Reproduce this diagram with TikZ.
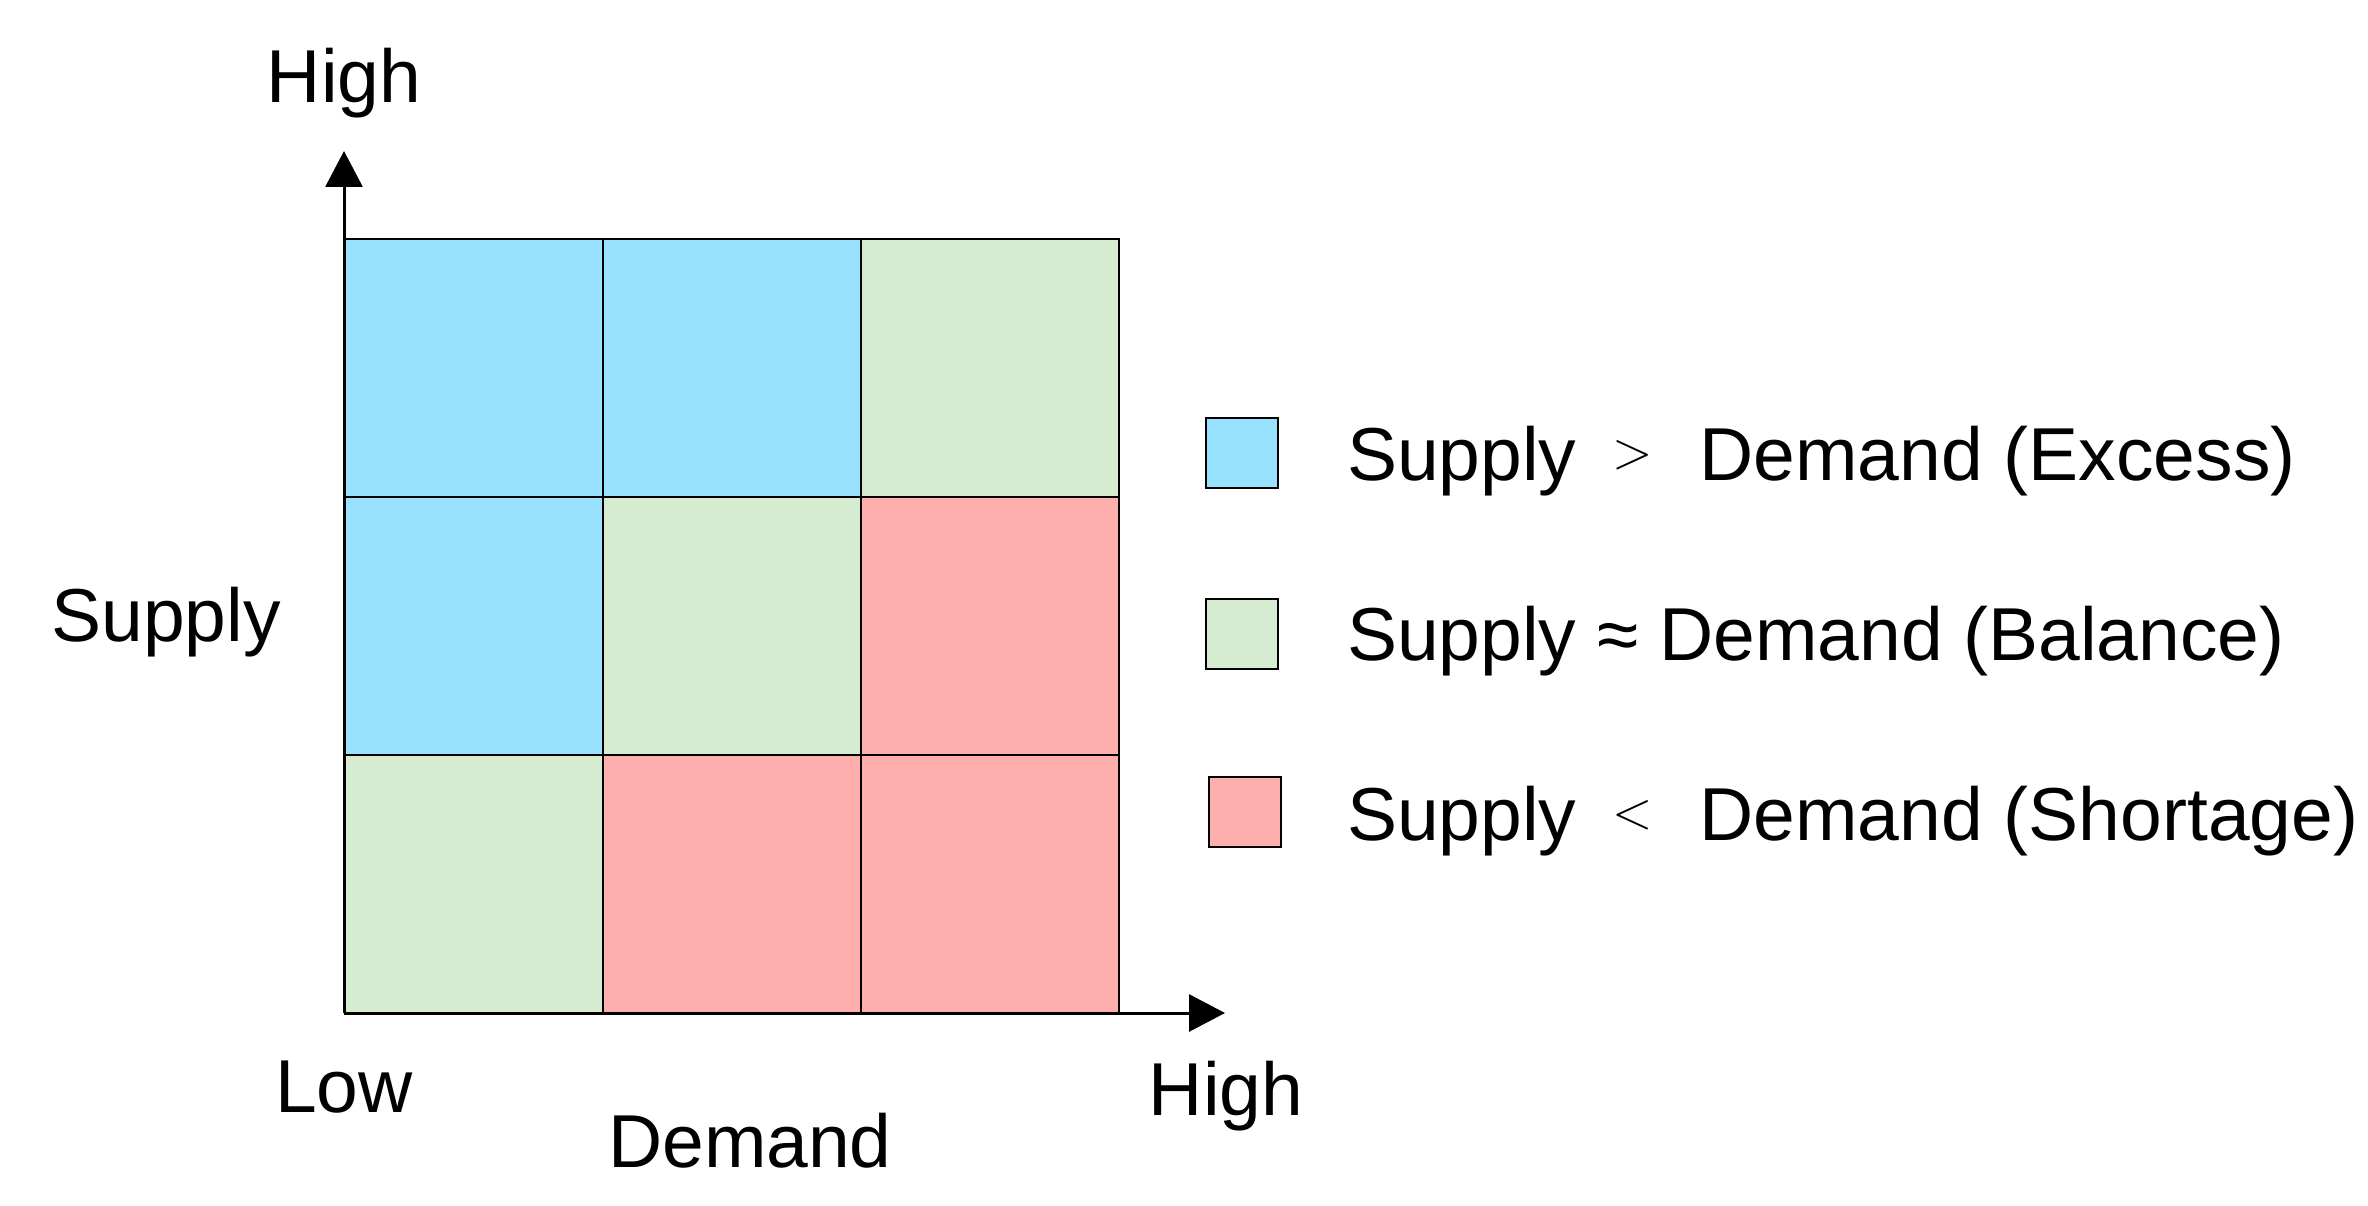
\documentclass[tikz,border=0pt]{standalone}
\usepackage{fontspec}
\setmainfont{Liberation Sans}
\newfontfamily\lmfont{Latin Modern Roman}
\usetikzlibrary{arrows.meta}
\definecolor{cblue}{RGB}{153,226,255}
\definecolor{cgreen}{RGB}{213,236,208}
\definecolor{cred}{RGB}{255,174,174}
\newcommand{\relsym}[1]{~\hspace{15pt}\raisebox{12pt}{\lmfont\fontsize{53}{60}\selectfont #1}\hspace{26pt}~}
\begin{document}
\begin{tikzpicture}[x=1pt,y=-1pt,
  lbl/.style={inner sep=0pt,font=\fontsize{75}{90}\selectfont},
  cell/.style={draw=black,line width=2pt,minimum width=258pt,minimum height=258pt,inner sep=0pt,outer sep=0pt},
  legbox/.style={draw=black,line width=2pt,minimum width=72pt,minimum height=70pt,inner sep=0pt},
  axis/.style={line width=3pt,-{Triangle[length=36pt,width=37pt]}}]
\useasboundingbox (0,0) rectangle (2368,1206);
% grid cells
\node[cell,fill=cblue]  (c11) at (473.5,368) {};
\node[cell,fill=cblue]  (c12) at (732,368) {};
\node[cell,fill=cgreen] (c13) at (990,368) {};
\node[cell,fill=cblue]  (c21) at (473.5,626) {};
\node[cell,fill=cgreen] (c22) at (732,626) {};
\node[cell,fill=cred]   (c23) at (990,626) {};
\node[cell,fill=cgreen] (c31) at (473.5,884) {};
\node[cell,fill=cred]   (c32) at (732,884) {};
\node[cell,fill=cred]   (c33) at (990,884) {};
% axes
\coordinate (origin) at (344,1013);
\coordinate (ytip) at (344,151);
\coordinate (xtip) at (1225,1013);
\draw[axis] (origin) -- (ytip);
\draw[axis] (origin) -- (xtip);
% axis labels
\node[lbl,anchor=base] (yhigh) at (344,103) {High};
\node[lbl,anchor=base] (ylab) at (166,641) {Supply};
\node[lbl,anchor=base] (xlow) at (344,1112) {Low};
\node[lbl,anchor=base] (xhigh) at (1226,1115) {High};
\node[lbl,anchor=base] (xlab) at (750,1167) {Demand};
% legend
\node[legbox,fill=cblue]  (lb1) at (1241.5,453) {};
\node[legbox,fill=cgreen] (lb2) at (1241.5,633.5) {};
\node[legbox,fill=cred]   (lb3) at (1244.5,811.5) {};
\node[lbl,anchor=base west] (lt1) at (1347,480) {Supply\relsym{>}Demand (Excess)};
\node[lbl,anchor=base west] (lt2) at (1347,660) {Supply ≈ Demand (Balance)};
\node[lbl,anchor=base west] (lt3) at (1347,840) {Supply\relsym{<}Demand (Shortage)};
\end{tikzpicture}
\end{document}
